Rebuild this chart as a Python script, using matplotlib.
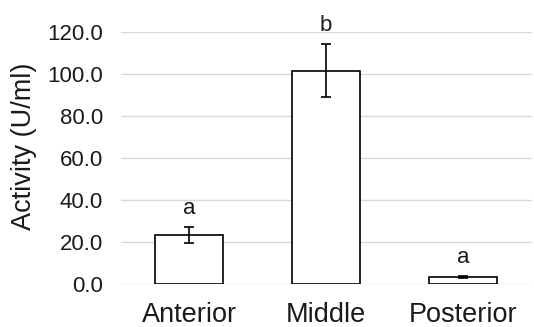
import matplotlib
matplotlib.use("Agg")
import matplotlib.pyplot as plt

# Enzyme activity by gut region (mean +/- SD)
regions = ["Anterior", "Middle", "Posterior"]
activity = [23.3, 101.5, 3.3]
activity_err = [3.8, 12.5, 0.5]
groups = ["a", "b", "a"]
y_ticks = [0, 20, 40, 60, 80, 100, 120]

plt.rcParams["font.family"] = ["Liberation Sans", "DejaVu Sans"]
text_color = "#1a1a1a"

fig = plt.figure(figsize=(5.34, 3.27), dpi=100)
ax = fig.add_axes([0.226, 0.1315, 0.7696, 0.7715])

x = list(range(len(regions)))
ax.bar(x, activity, width=0.5, color="white", edgecolor="black",
       linewidth=1.2, zorder=3)
ax.errorbar(x, activity, yerr=activity_err, fmt="none", ecolor="black",
            elinewidth=1.2, capsize=3.6, capthick=1.2, zorder=4)

# significance letters above each error bar
for xi, val, err, g in zip(x, activity, activity_err, groups):
    ax.annotate(g, (xi, val + err), xytext=(0, 9.5), textcoords="offset points",
                ha="center", va="baseline", fontsize=16, color=text_color,
                annotation_clip=False)

ax.set_xlim(-0.5, 2.5)
ax.set_ylim(0, 120)
ax.set_yticks(y_ticks)
ax.set_yticklabels([f"{v:.1f}" for v in y_ticks])
ax.set_xticks(x)
ax.set_xticklabels(regions)

ax.grid(axis="y", color="#d9d9d9", linewidth=1.0, zorder=0)
ax.set_axisbelow(True)
for s in ax.spines.values():
    s.set_visible(False)

ax.tick_params(axis="y", length=0, pad=12.7, labelsize=16, labelcolor=text_color)
ax.tick_params(axis="x", length=0, pad=13, labelsize=19.5, labelcolor=text_color)

fig.text(24 / 534, 0.553, "Activity (U/ml)", rotation=90, ha="center",
         va="center", fontsize=19.5, color=text_color)

fig.savefig("out.png", dpi=100)
